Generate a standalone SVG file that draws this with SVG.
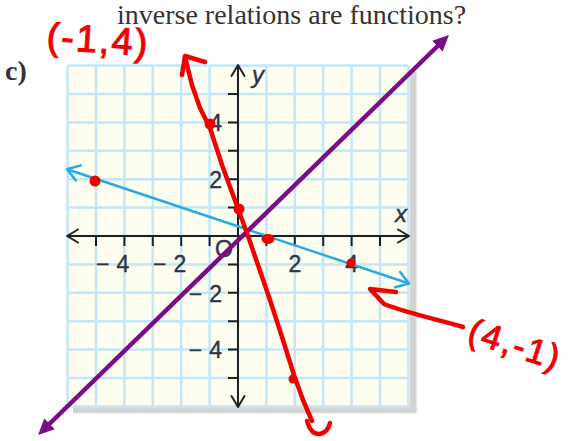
<svg xmlns="http://www.w3.org/2000/svg" width="571" height="441" viewBox="0 0 571 441">
<style>
.title{font-family:"Liberation Serif","Times New Roman",serif;font-size:28px;fill:#333}
.part{font-family:"Liberation Serif","Times New Roman",serif;font-size:28px;font-weight:bold;fill:#333}
.grid{stroke:#c4e6f8;stroke-width:2.5;fill:none}
.axis{stroke:#231f20;stroke-width:2;fill:none}
.num{font-family:"Liberation Sans",Arial,sans-serif;font-size:23px;fill:#2e3445;stroke:#2e3445;stroke-width:0.4}
.var{font-family:"Liberation Sans",Arial,sans-serif;font-size:24px;font-style:italic;fill:#2e3445;stroke:#2e3445;stroke-width:0.4}
.ink{stroke:#f20000;stroke-width:4.5;fill:none;stroke-linecap:round;stroke-linejoin:round}
.inktext{font-family:"Liberation Sans",Arial,sans-serif;font-size:38px;fill:#f20000;stroke:#f20000;stroke-width:1;letter-spacing:2px}
.inktext.small{font-size:35px}
.dot{fill:#f20000}
</style>
<defs>
<marker id="chevAxis" markerUnits="userSpaceOnUse" markerWidth="30" markerHeight="30" viewBox="-15 -15 30 30" refX="0" refY="0" orient="auto-start-reverse" overflow="visible">
<path d="M-11,-6.5 L0,0 L-11,6.5" fill="none" stroke="#231f20" stroke-width="2" stroke-linejoin="round" stroke-linecap="round"/>
</marker>
<marker id="chevBlue" markerUnits="userSpaceOnUse" markerWidth="30" markerHeight="30" viewBox="-15 -15 30 30" refX="0" refY="0" orient="auto-start-reverse" overflow="visible">
<path d="M-12,-8 L0,0 L-12,8" fill="none" stroke="#29abe2" stroke-width="2.5" stroke-linejoin="round" stroke-linecap="round"/>
</marker>
<marker id="triPurple" markerUnits="userSpaceOnUse" markerWidth="40" markerHeight="40" viewBox="-20 -20 40 40" refX="-10" refY="0" orient="auto-start-reverse" overflow="visible">
<path d="M-16,-7.5 L0,0 L-16,7.5 Z" fill="#7a0c88"/>
</marker>
</defs>

<g id="header">
<text class="title" x="117" y="24">inverse relations are functions?</text>
<text class="part" x="5" y="80">c)</text>
</g>

<g id="grid">
<rect x="410" y="72" width="6.5" height="341" fill="#d3d3d3"/>
<rect x="73" y="406.5" width="343.5" height="6.5" fill="#d3d3d3"/>
<rect x="67.6" y="65.6" width="340.8" height="340.8" fill="#fdfdf0"/>
<path class="grid" d="M67.6,65.6V406.4M96,65.6V406.4M124.4,65.6V406.4M152.8,65.6V406.4M181.2,65.6V406.4M209.6,65.6V406.4M238,65.6V406.4M266.4,65.6V406.4M294.8,65.6V406.4M323.2,65.6V406.4M351.6,65.6V406.4M380,65.6V406.4M408.4,65.6V406.4
M67.6,65.6H408.4M67.6,94H408.4M67.6,122.4H408.4M67.6,150.8H408.4M67.6,179.2H408.4M67.6,207.6H408.4M67.6,236H408.4M67.6,264.4H408.4M67.6,292.8H408.4M67.6,321.2H408.4M67.6,349.6H408.4M67.6,378H408.4M67.6,406.4H408.4"/>
</g>

<g id="axes">
<path class="axis" d="M67,236H409" marker-start="url(#chevAxis)" marker-end="url(#chevAxis)"/>
<path class="axis" d="M238,407V65" marker-start="url(#chevAxis)" marker-end="url(#chevAxis)"/>
<path class="axis" d="M96,236v10M124.4,236v10M152.8,236v10M181.2,236v10M209.6,236v10M266.4,236v10M294.8,236v10M323.2,236v10M351.6,236v10M380,236v10
M228,94h10M228,122.4h10M228,150.8h10M228,179.2h10M228,207.6h10M228,264.4h10M228,292.8h10M228,321.2h10M228,349.6h10M228,378h10"/>
<text class="num" x="96" y="272">−<tspan dx="7">4</tspan></text>
<text class="num" x="153" y="272">−<tspan dx="7">2</tspan></text>
<text class="num" x="294.8" y="272" text-anchor="middle">2</text>
<text class="num" x="351.6" y="272" text-anchor="middle">4</text>
<text class="num" x="222" y="131" text-anchor="end">4</text>
<text class="num" x="222" y="188" text-anchor="end">2</text>
<text class="num" x="222" y="302" text-anchor="end">−<tspan dx="7">2</tspan></text>
<text class="num" x="222" y="358" text-anchor="end">−<tspan dx="7">4</tspan></text>
<text class="num" x="224" y="257" text-anchor="middle">O</text>
<text class="var" x="401" y="222" text-anchor="middle">x</text>
<text class="var" x="252" y="83">y</text>
</g>

<g id="connectors">
<path id="blue-line" d="M67,169.2L409,283.5" fill="none" stroke="#29abe2" stroke-width="2.5" marker-start="url(#chevBlue)" marker-end="url(#chevBlue)"/>
<path id="purple-line" d="M45.2,428L441.8,42" fill="none" stroke="#7a0c88" stroke-width="4.5" marker-start="url(#triPurple)" marker-end="url(#triPurple)"/>
</g>

<g id="red-inverse">
<path class="ink" d="M185,57 L192,85 L200,108 L210,128 L222,165 L233,195 L240,214 L248,236 L258,265 L270,300 L283,340 L294,375 L303,400 L309,414 L312,421"/>
<path class="ink" d="M205,62 L185,56 L182,75"/>
<path class="ink" d="M307,421 Q311,435 320,434 Q328,432 330,423"/>
<circle class="dot" cx="95" cy="181" r="5.5"/>
<circle class="dot" cx="210" cy="124" r="5.5"/>
<circle class="dot" cx="239" cy="209" r="5.5"/>
<ellipse class="dot" cx="268" cy="239" rx="6.5" ry="5"/>
<circle class="dot" cx="351" cy="263" r="4.5"/>
<circle class="dot" cx="293" cy="379" r="4.5"/>
</g>

<g id="annotations">
<text class="inktext" x="46" y="49" transform="rotate(4 46 49)">(-1,4)</text>
<text class="inktext small" x="466" y="341" transform="rotate(18 466 341)">(4,-1)</text>
<path class="ink" d="M396,292 L370,289 L384,304 C410,314 440,320 463,327"/>
</g>
</svg>
